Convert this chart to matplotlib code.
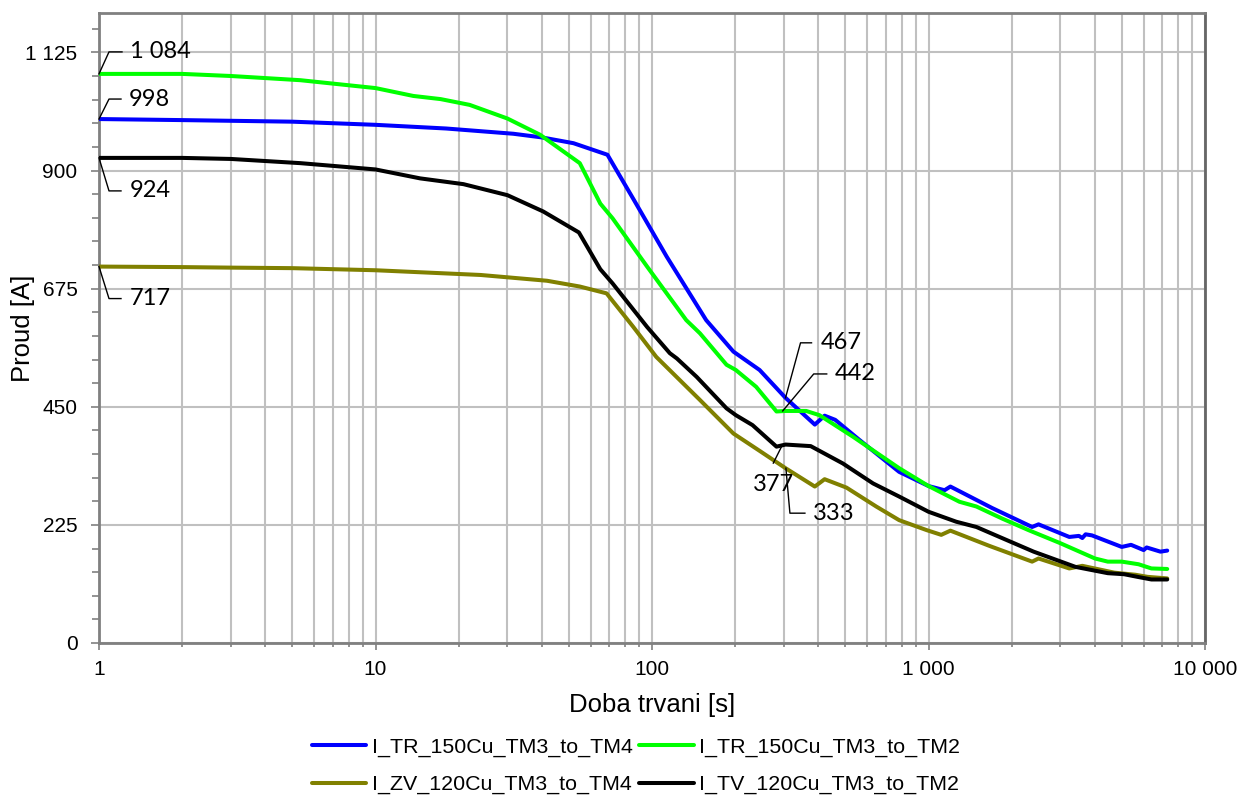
import numpy as np
import matplotlib
matplotlib.use('Agg')
import matplotlib.pyplot as plt
from matplotlib.ticker import FixedLocator, FuncFormatter, NullFormatter, MultipleLocator

# Hodnoty
t_tr_tm4 = [1, 2, 5, 10, 18, 31.5, 40, 52, 69, 86, 113, 157, 197, 245, 304, 388, 421, 460,
            562, 783, 1000, 1143, 1200, 1700, 2370, 2500, 3230, 3500, 3600, 3700, 3900, 5000,
            5400, 6000, 6150, 6900, 7300]
i_tr_tm4 = [998, 996, 993, 987, 980, 970, 963, 952, 930, 844, 736, 615, 555, 520, 467, 416,
            433, 425, 387, 326, 299, 291, 298, 257, 221, 226, 202, 204, 200, 207, 205, 183, 187,
            177, 182, 174, 176]

t_tr_tm2 = [1, 2, 3, 5.35, 10, 13.7, 17.2, 21.9, 30, 39.4, 54.8, 65, 72, 96, 133, 149, 186, 201,
            238, 282, 304, 361, 403, 533, 783, 1000, 1294, 1490, 1847, 2300, 3000, 4000, 4450,
            5000, 5750, 6400, 7300]
i_tr_tm2 = [1084, 1084, 1080, 1072, 1057, 1042, 1036, 1025, 999, 968, 914, 837, 809, 717, 615,
            590, 530, 520, 488, 441, 442, 442, 434, 393, 333, 299, 269, 260, 237, 215, 190, 161,
            155, 155, 150, 142, 141]

t_zv_tm4 = [1, 2, 3, 5, 10, 24, 41.7, 54.8, 68.5, 85.6, 103.6, 149, 197, 245, 304, 388, 421, 505,
            647, 783, 985, 1112, 1200, 1660, 2370, 2500, 3230, 3600, 4700, 5600, 6200, 7300]
i_zv_tm4 = [717, 716, 715, 714, 710, 701, 690, 679, 666, 602, 545, 463, 399, 366, 333, 298, 312,
            296, 260, 234, 215, 206, 214, 185, 155, 161, 142, 147, 134, 130, 126, 123]

t_tv_tm2 = [1, 2, 3, 5.35, 10, 14.5, 20.8, 30, 40.4, 54.4, 65, 72, 96, 116, 123, 145, 186, 201,
            231, 282, 304, 375, 490, 630, 783, 1000, 1260, 1490, 1900, 2400, 3400, 4450, 5100,
            5700, 6400, 7300]
i_tv_tm2 = [924, 924, 922, 914, 902, 885, 874, 853, 822, 782, 712, 685, 602, 552, 542, 507, 447,
            434, 415, 374, 378, 375, 342, 304, 279, 250, 231, 221, 197, 174, 145, 133, 131, 126,
            121, 121]

labels = ['I_TR_150Cu_TM3_to_TM4', 'I_TR_150Cu_TM3_to_TM2',
          'I_ZV_120Cu_TM3_to_TM4', 'I_TV_120Cu_TM3_to_TM2']
colors = ['#0000ff', '#00ff00', '#808000', '#000000']

x_ticks = [1, 10, 100, 1000, 10000]
y_ticks = [0, 225, 450, 675, 900, 1125]

# popisky: (t, I, text, body lomene cary v px, pozice textu v px, zarovnani)
notes = [
    (1, 1084, '1 084', [(10, 22), (23, 22)], (31, 22), 'left'),
    (1, 998, '998', [(10, 20), (22, 20)], (30, 20), 'left'),
    (1, 924, '924', [(10, -33), (22, -33)], (31, -33), 'left'),
    (1, 717, '717', [(10, -32), (22, -32)], (31, -32), 'left'),
    (304, 467, '467', [(15, 55), (26, 55)], (35, 55), 'left'),
    (297, 442, '442', [(31, 37), (44, 37)], (52, 37), 'left'),
    (296, 377, '377', [(-9, -18)], (-9, -39), 'center'),
    (305, 333, '333', [(4, -45), (19, -45)], (27, -45), 'left'),
]

plt.rcParams['font.family'] = ['Liberation Sans', 'DejaVu Sans']
fig = plt.figure(figsize=(12.42, 7.99), dpi=100)
ax = fig.add_axes([99 / 1242, 1 - 643 / 799, (1205 - 99) / 1242, (643 - 13) / 799])

series = [(t_tr_tm4, i_tr_tm4), (t_tr_tm2, i_tr_tm2), (t_zv_tm4, i_zv_tm4), (t_tv_tm2, i_tv_tm2)]
handles = []
for (t, i), c, lab in zip(series, colors, labels):
    h, = ax.plot(t, i, color=c, lw=2.9, label=lab, solid_capstyle='round', zorder=3)
    handles.append(h)

ax.set_xscale('log')
ax.set_xlim(1, 10000)
ax.set_ylim(0, 1200)

ax.xaxis.set_major_locator(FixedLocator(x_ticks))
ax.xaxis.set_major_formatter(FuncFormatter(lambda v, p: f'{v:,.0f}'.replace(',', ' ')))
ax.xaxis.set_minor_formatter(NullFormatter())
ax.yaxis.set_major_locator(FixedLocator(y_ticks))
ax.yaxis.set_minor_locator(MultipleLocator(45))
ax.yaxis.set_major_formatter(FuncFormatter(lambda v, p: f'{v:,.0f}'.replace(',', ' ')))

ax.grid(True, which='major', axis='y', color='#c0c0c0', lw=1.5, zorder=0)
ax.grid(True, which='both', axis='x', color='#c0c0c0', lw=1.5, zorder=0)
ax.set_axisbelow(True)
for s in ax.spines.values():
    s.set_color('#808080')
    s.set_linewidth(2)
ax.spines['right'].set_color('#666666')
ax.tick_params(which='both', direction='out', color='#808080', width=1.2, labelsize=15)
ax.tick_params(axis='x', which='major', length=5, pad=7.5)
ax.tick_params(axis='x', which='minor', length=3)
ax.tick_params(axis='y', which='major', length=5.5, pad=10)
ax.tick_params(axis='y', which='minor', length=5)

ax.set_xlabel('Doba trvani [s]', fontsize=18.5)
ax.set_ylabel('Proud [A]', fontsize=18.5)
ax.xaxis.set_label_coords(0.5, -0.079)
ax.yaxis.set_label_coords(-0.058, 0.5)

fig.canvas.draw()


def px_to_data(t, i, dx, dy):
    x0, y0 = ax.transData.transform((t, i))
    return ax.transData.inverted().transform((x0 + dx, y0 + dy))


for t, i, txt, pts, tpos, ha in notes:
    verts = [(t, i)] + [tuple(px_to_data(t, i, dx, dy)) for dx, dy in pts]
    xs, ys = zip(*verts)
    ax.plot(xs, ys, color='black', lw=1.0, clip_on=False, zorder=4)
    tx, ty = px_to_data(t, i, *tpos)
    ax.text(tx, ty, txt, ha=ha, va='center', fontsize=17, family=['Lato', 'DejaVu Sans'],
            zorder=5, clip_on=False)

# poradi v legende po radcich
order = [0, 2, 1, 3]
fig.legend([handles[k] for k in order], [labels[k] for k in order],
           loc='center', bbox_to_anchor=(636 / 1242, 1 - 766 / 799), ncol=2, frameon=False,
           fontsize=15.4, handlelength=2.55, handletextpad=0.25, columnspacing=0.33,
           labelspacing=0.85)

fig.savefig('out.png', dpi=100)
